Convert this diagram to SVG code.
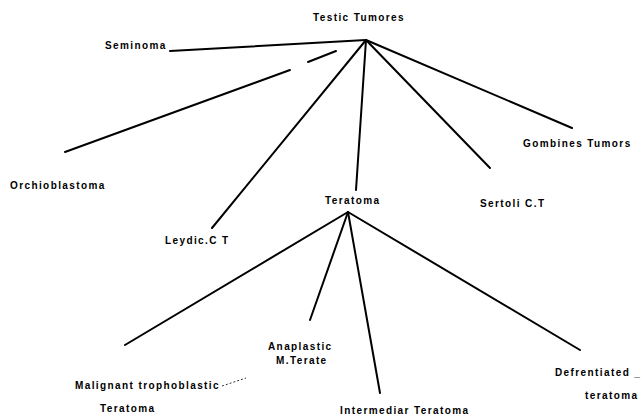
<svg xmlns="http://www.w3.org/2000/svg" width="644" height="419" viewBox="0 0 644 419">
<style>
.t{font-family:"Liberation Sans",Arial,sans-serif;font-size:10px;font-weight:bold;fill:#000;letter-spacing:1.4px}
.c{stroke:#000;stroke-width:2;fill:none;stroke-linecap:round}
.d{stroke:#000;stroke-width:0.8;fill:none;stroke-dasharray:2 2}
</style>
<rect width="644" height="419" fill="#fff"/>
<g id="connectors">
<path class="c" d="M366 40 L170 51"/>
<path class="c" d="M65 152 L290 70"/>
<path class="c" d="M308 62 L336 51"/>
<path class="c" d="M366 40 L212 228"/>
<path class="c" d="M366 40 L356 190"/>
<path class="c" d="M366 40 L490 168"/>
<path class="c" d="M366 40 L572 128"/>
<path class="c" d="M348 212 L125 345"/>
<path class="c" d="M348 212 L310 320"/>
<path class="c" d="M348 212 L380 393"/>
<path class="c" d="M348 212 L580 350"/>
<path class="d" d="M222 386 L246 378"/>
</g>
<g id="testic"><text class="t" x="313" y="21">Testic Tumores</text></g>
<g id="seminoma"><text class="t" x="105" y="49">Seminoma</text></g>
<g id="orchioblastoma"><text class="t" x="10" y="189">Orchioblastoma</text></g>
<g id="leydic"><text class="t" x="165" y="244">Leydic.C T</text></g>
<g id="teratoma"><text class="t" x="325" y="204">Teratoma</text></g>
<g id="sertoli"><text class="t" x="480" y="207">Sertoli C.T</text></g>
<g id="combined"><text class="t" x="523" y="147">Gombines Tumors</text></g>
<g id="malignant"><text class="t" x="75" y="389">Malignant trophoblastic</text><text class="t" x="100" y="412">Teratoma</text></g>
<g id="anaplastic"><text class="t" x="268" y="350">Anaplastic</text><text class="t" x="276" y="364">M.Terate</text></g>
<g id="intermediar"><text class="t" x="340" y="414">Intermediar Teratoma</text></g>
<g id="defrentiated"><text class="t" x="555" y="376">Defrentiated _</text><text class="t" x="585" y="399">teratoma</text></g>
</svg>
